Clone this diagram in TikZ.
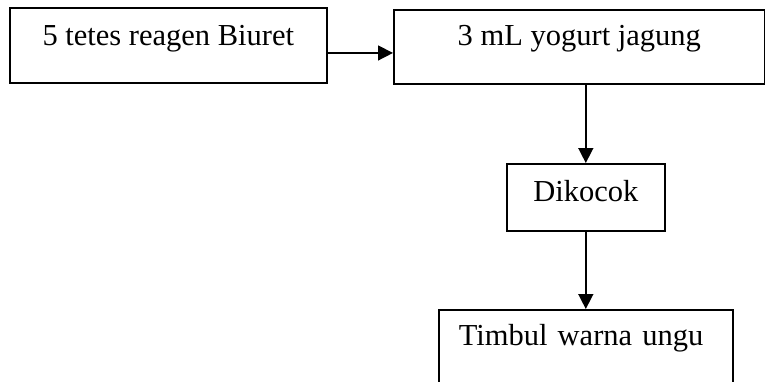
\documentclass[tikz,border=0pt]{standalone}
\usepackage{fontspec}
\setmainfont{Liberation Serif}
\usetikzlibrary{arrows.meta,positioning,calc}

\begin{document}
\begin{tikzpicture}[x=1pt,y=-1pt, every node/.style={font=\fontsize{30.5}{36}\selectfont}, stepbox/.style={draw, line width=1.6pt, inner sep=0pt}, arr/.style={-{Triangle[length=15pt,width=15pt]}, line width=1.5pt}]
\clip (0,0) rectangle (765,381);
\node[stepbox, anchor=north west, minimum width=317pt, text height=38pt, text depth=37pt] (biuret) at (9,7) {5 tetes reagen Biuret};
\node[stepbox, anchor=north west, minimum width=371pt, text height=36pt, text depth=38pt] (yogurt) at (393,9) {3 mL yogurt jagung};
\node[stepbox, anchor=north west, minimum width=158pt, text height=38pt, text depth=29pt] (kocok) at (506,163) {Dikocok};
\node[stepbox, anchor=north west, text width=254pt, align=left, inner xsep=20pt, text height=36pt, text depth=60pt] (ungu) at (438,309) {Timbul warna ungu};
\draw[arr] ($(biuret.north east)!0.6!(biuret.south east)$) coordinate (p) -- (yogurt.west |- p);
\draw[arr] (yogurt.south -| kocok.north) -- (kocok.north);
\draw[arr] (kocok.south) -- (ungu.north -| kocok.south);
\end{tikzpicture}
\end{document}
